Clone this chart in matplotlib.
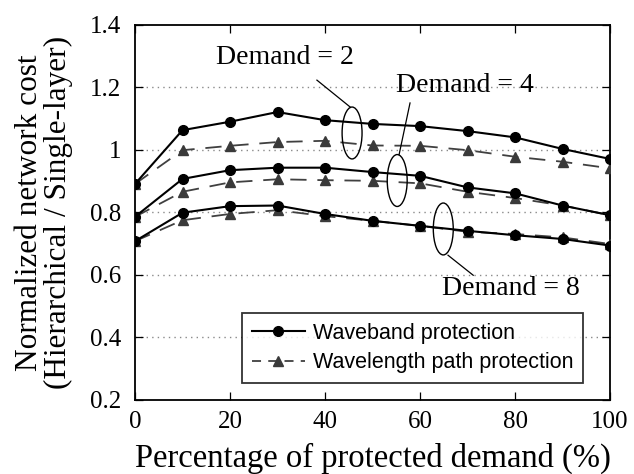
import numpy as np
import matplotlib
matplotlib.use("Agg")
import matplotlib.pyplot as plt
from matplotlib.patches import Ellipse

# percentage of protected demand
pct = [0, 10, 20, 30, 40, 50, 60, 70, 80, 90, 100]

# waveband protection
wb_d2 = [0.891, 1.063, 1.090, 1.121, 1.095, 1.083, 1.076, 1.060, 1.040, 1.003, 0.971]
wb_d4 = [0.786, 0.907, 0.935, 0.943, 0.943, 0.929, 0.917, 0.880, 0.861, 0.822, 0.791]
wb_d8 = [0.708, 0.799, 0.820, 0.822, 0.795, 0.773, 0.757, 0.741, 0.727, 0.715, 0.694]

# wavelength path protection
wl_d2 = [0.891, 0.999, 1.013, 1.025, 1.029, 1.014, 1.013, 0.999, 0.978, 0.962, 0.941]
wl_d4 = [0.786, 0.866, 0.896, 0.906, 0.903, 0.901, 0.893, 0.866, 0.846, 0.822, 0.791]
wl_d8 = [0.708, 0.775, 0.795, 0.807, 0.788, 0.773, 0.757, 0.738, 0.731, 0.720, 0.699]

serif = ["Liberation Serif", "DejaVu Serif"]
sans = ["Liberation Sans", "DejaVu Sans"]

fig = plt.figure(figsize=(6.34, 4.74), dpi=100)
ax = fig.add_axes([135 / 634, 1 - 400 / 474, 475 / 634, 375.2 / 474])

for y in [0.4, 0.6, 0.8, 1.0, 1.2]:
    ax.axhline(y, color="#8a8a8a", lw=1.0, ls=(0, (1, 3)), zorder=1)

for wl in [wl_d2, wl_d4, wl_d8]:
    ax.plot(pct, wl, color="#404040", lw=1.3, ls=(0, (9, 6)), marker="^",
            ms=7.5, mfc="#3a3a3a", mec="#3a3a3a", zorder=3)
for wb in [wb_d2, wb_d4, wb_d8]:
    ax.plot(pct, wb, color="black", lw=1.5, marker="o", ms=7,
            mfc="black", mec="black", zorder=4)

# legend proxies
h1, = ax.plot([], [], color="black", lw=1.5, marker="o", ms=7)
h2, = ax.plot([], [], color="#404040", lw=1.3, ls=(0, (5, 4)), marker="^",
              ms=7.5, mfc="#3a3a3a", mec="#3a3a3a")
leg = ax.legend([h1, h2], ["Waveband protection", "Wavelength path protection"],
                loc="lower left", bbox_to_anchor=(0.225, 0.045), borderaxespad=0,
                prop={"family": sans, "size": 15.5}, frameon=True, fancybox=False,
                handlelength=2.5, handletextpad=0.35, labelspacing=0.4,
                borderpad=0.45)
leg.get_frame().set_edgecolor("black")
leg.get_frame().set_linewidth(1.3)

# annotations with ellipses and leader lines
ax.text(31.6, 1.294, "Demand = 2", ha="center", va="center",
        family=serif, fontsize=20)
ax.text(69.4, 1.207, "Demand = 4", ha="center", va="center",
        family=serif, fontsize=20)
ax.text(79.2, 0.556, "Demand = 8", ha="center", va="center",
        family=serif, fontsize=20)

for cx, cy in [(45.7, 1.054), (55.2, 0.902), (64.9, 0.747)]:
    ax.add_patch(Ellipse((cx, cy), 4.2, 0.166, fill=False, ec="black",
                         lw=1.0, zorder=5))
ax.plot([38.3, 45.3], [1.223, 1.137], color="black", lw=0.9, zorder=5)
ax.plot([57.9, 55.6], [1.150, 0.985], color="black", lw=0.9, zorder=5)
ax.plot([65.9, 71.2], [0.663, 0.599], color="black", lw=0.9, zorder=5)

ax.set_xlim(0, 100)
ax.set_ylim(0.2, 1.4)
ax.set_xticks([0, 20, 40, 60, 80, 100])
ax.set_yticks([0.2, 0.4, 0.6, 0.8, 1.0, 1.2, 1.4])
ax.set_yticklabels(["0.2", "0.4", "0.6", "0.8", "1", "1.2", "1.4"])
ax.tick_params(direction="in", top=True, right=True, length=6, width=0.9,
               labelsize=18)
ax.tick_params(axis="x", pad=8)
ax.tick_params(axis="y", pad=10)
for lab in ax.get_xticklabels() + ax.get_yticklabels():
    lab.set_family(serif)
for sp in ax.spines.values():
    sp.set_linewidth(1.3)

ax.set_xlabel("Percentage of protected demand (%)", family=serif,
              fontsize=23.5, labelpad=7)
ax.set_ylabel("Normalized network cost\n(Hierarchical / Single-layer)",
              family=serif, fontsize=22.5, linespacing=1.0, labelpad=12)

fig.savefig("out.png", dpi=100)
